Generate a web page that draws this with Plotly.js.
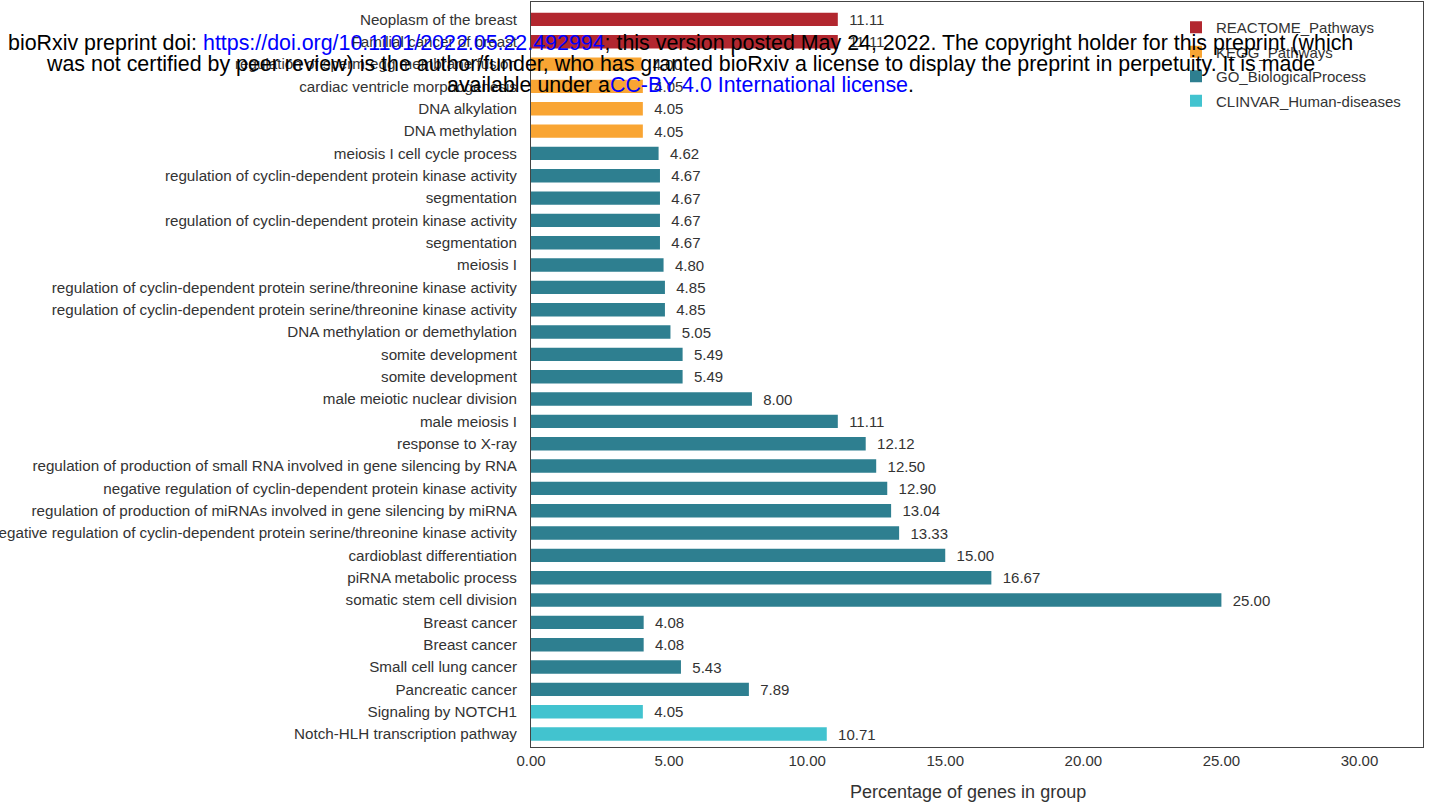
<!DOCTYPE html>
<html>
<head>
<meta charset="utf-8">
<script src="https://cdn.plot.ly/plotly-3.0.1.min.js"></script>
<style>
  html, body { margin: 0; padding: 0; background: #fff; }
  #chart { width: 1429px; height: 807px; }
</style>
</head>
<body>
<div id="chart"></div>
<script>
// Rows listed top to bottom as in the reference
const terms = [
  "Neoplasm of the breast",
  "Familial cancer of breast",
  "regulation of sperm-egg membrane fusion",
  "cardiac ventricle morphogenesis",
  "DNA alkylation",
  "DNA methylation",
  "meiosis I cell cycle process",
  "regulation of cyclin-dependent protein kinase activity",
  "segmentation",
  "regulation of cyclin-dependent protein kinase activity",
  "segmentation",
  "meiosis I",
  "regulation of cyclin-dependent protein serine/threonine kinase activity",
  "regulation of cyclin-dependent protein serine/threonine kinase activity",
  "DNA methylation or demethylation",
  "somite development",
  "somite development",
  "male meiotic nuclear division",
  "male meiosis I",
  "response to X-ray",
  "regulation of production of small RNA involved in gene silencing by RNA",
  "negative regulation of cyclin-dependent protein kinase activity",
  "regulation of production of miRNAs involved in gene silencing by miRNA",
  "negative regulation of cyclin-dependent protein serine/threonine kinase activity",
  "cardioblast differentiation",
  "piRNA metabolic process",
  "somatic stem cell division",
  "Breast cancer",
  "Breast cancer",
  "Small cell lung cancer",
  "Pancreatic cancer",
  "Signaling by NOTCH1",
  "Notch-HLH transcription pathway"
];

const percentages = [
  11.11, 11.11, 4.00, 4.05, 4.05, 4.05,
  4.62, 4.67, 4.67, 4.67, 4.67, 4.80, 4.85, 4.85, 5.05, 5.49, 5.49,
  8.00, 11.11, 12.12, 12.50, 12.90, 13.04, 13.33, 15.00, 16.67, 25.00,
  4.08, 4.08, 5.43, 7.89,
  4.05, 10.71
];

const sources = [
  "REACTOME_Pathways", "REACTOME_Pathways",
  "KEGG_Pathways", "KEGG_Pathways", "KEGG_Pathways", "KEGG_Pathways",
  "GO_BiologicalProcess", "GO_BiologicalProcess", "GO_BiologicalProcess", "GO_BiologicalProcess",
  "GO_BiologicalProcess", "GO_BiologicalProcess", "GO_BiologicalProcess", "GO_BiologicalProcess",
  "GO_BiologicalProcess", "GO_BiologicalProcess", "GO_BiologicalProcess", "GO_BiologicalProcess",
  "GO_BiologicalProcess", "GO_BiologicalProcess", "GO_BiologicalProcess", "GO_BiologicalProcess",
  "GO_BiologicalProcess", "GO_BiologicalProcess", "GO_BiologicalProcess", "GO_BiologicalProcess",
  "GO_BiologicalProcess", "GO_BiologicalProcess", "GO_BiologicalProcess", "GO_BiologicalProcess",
  "GO_BiologicalProcess",
  "CLINVAR_Human-diseases", "CLINVAR_Human-diseases"
];

const sourceNames = ["REACTOME_Pathways", "KEGG_Pathways", "GO_BiologicalProcess", "CLINVAR_Human-diseases"];
const sourceColors = ["#b2272f", "#f9a533", "#2e7f90", "#42c3cf"];

const xTicks = [0, 5, 10, 15, 20, 25, 30];
const xTitle = "Percentage of genes in group";

const n = terms.length;
// row position: top row gets the highest index
const rowPos = terms.map((t, i) => n - 1 - i);

const font = "Liberation Sans, Arial, Helvetica, sans-serif";

const traces = sourceNames.map((src, k) => {
  const idx = [];
  sources.forEach((s, i) => { if (s === src) idx.push(i); });
  return {
    type: "bar",
    orientation: "h",
    name: src,
    legendgroup: src,
    x: idx.map(i => percentages[i]),
    y: idx.map(i => rowPos[i]),
    marker: { color: sourceColors[k], line: { width: 0 } },
    width: 0.6,
    text: idx.map(i => "\u00a0\u00a0" + percentages[i].toFixed(2)),
    texttemplate: "%{text}",
    textposition: "outside",
    constraintext: "none",
    cliponaxis: false,
    textfont: { family: font, size: 15, color: "#333333" },
    hoverinfo: "x+y"
  };
});

const plotLeft = 531, plotRight = 1423, plotTop = 2, plotBottom = 747;
const pw = plotRight - plotLeft, ph = plotBottom - plotTop;
const px2x = p => (p - plotLeft) / pw;
const px2y = p => (plotBottom - p) / ph;

const blue = "#0000ff";
const wm1 = 'bioRxiv preprint doi: <span style="color:' + blue + '">https://doi.org/10.1101/2022.05.22.492994</span>; this version posted May 24, 2022. The copyright holder for this preprint (which';
const wm2 = 'was not certified by peer review) is the author/funder, who has granted bioRxiv a license to display the preprint in perpetuity. It is made';
const wm3 = 'available under a<span style="color:' + blue + '">CC-BY 4.0 International license</span>.';

const wmFont = { family: font, size: 21.4, color: "#000000" };

const layout = {
  width: 1429,
  height: 807,
  margin: { l: plotLeft, r: 1429 - plotRight, t: plotTop, b: 807 - plotBottom, pad: 0 },
  paper_bgcolor: "#ffffff",
  plot_bgcolor: "#ffffff",
  barmode: "overlay",
  showlegend: true,
  legend: {
    x: px2x(1176), y: px2y(11), xanchor: "left", yanchor: "top",
    font: { family: font, size: 15, color: "#333333" },
    traceorder: "grouped", tracegroupgap: 2,
    bgcolor: "rgba(255,255,255,0)", borderwidth: 0
  },
  xaxis: {
    range: [0, 32.3],
    tickvals: xTicks,
    ticktext: xTicks.map(v => v.toFixed(2)),
    showgrid: false, zeroline: false,
    showline: true, mirror: true, linecolor: "#444444", linewidth: 1,
    ticks: "",
    tickfont: { family: font, size: 15, color: "#333333" }
  },
  yaxis: {
    range: [-0.58, n - 1 + 0.78],
    tickvals: rowPos,
    ticktext: terms,
    showgrid: false, zeroline: false,
    showline: true, mirror: true, linecolor: "#444444", linewidth: 1,
    ticks: "outside", ticklen: 10, tickcolor: "rgba(0,0,0,0)",
    tickfont: { family: font, size: 15.2, color: "#333333" },
    automargin: false
  },
  annotations: [
    { text: xTitle, x: px2x(968), y: px2y(792), xref: "paper", yref: "paper", xanchor: "center", yanchor: "middle", showarrow: false, font: { family: font, size: 18, color: "#333333" } },
    { text: wm1, x: px2x(680), y: px2y(43), xref: "paper", yref: "paper", xanchor: "center", yanchor: "middle", showarrow: false, font: wmFont },
    { text: wm2, x: px2x(680), y: px2y(64), xref: "paper", yref: "paper", xanchor: "center", yanchor: "middle", showarrow: false, font: wmFont },
    { text: wm3, x: px2x(680), y: px2y(85), xref: "paper", yref: "paper", xanchor: "center", yanchor: "middle", showarrow: false, font: wmFont }
  ]
};

Plotly.newPlot("chart", traces, layout, { displayModeBar: false, staticPlot: true });
</script>
</body>
</html>
